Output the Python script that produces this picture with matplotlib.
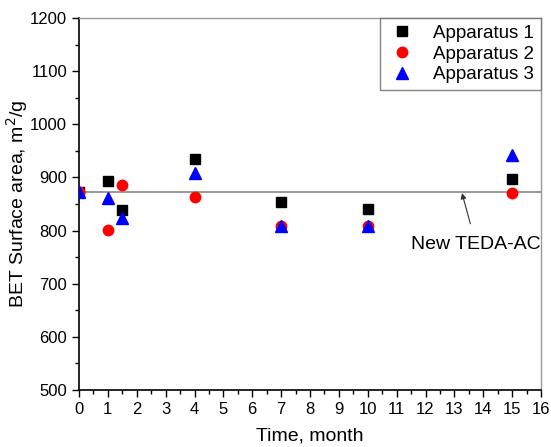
import matplotlib
matplotlib.use("Agg")
import matplotlib.pyplot as plt
from matplotlib.ticker import MultipleLocator

plt.rcParams['font.family'] = ['Liberation Sans', 'DejaVu Sans']

# data
months = [0, 1, 1.5, 4, 7, 10, 15]
app1 = [872, 893, 838, 935, 854, 841, 897]
app2 = [872, 802, 885, 863, 809, 808, 871]
app3 = [873, 861, 823, 909, 809, 808, 942]
new_teda = 873

fig = plt.figure(figsize=(5.51, 4.47), dpi=100)
ax = fig.add_axes([79 / 551, 1 - 390 / 447, 462 / 551, 372 / 447])

ax.axhline(new_teda, color='#888888', lw=1.2, zorder=1)
ax.plot(months, app1, 's', color='black', ms=6.5, ls='none', label='Apparatus 1', zorder=3)
ax.plot(months, app2, 'o', color='red', ms=7.5, ls='none', label='Apparatus 2', zorder=3)
ax.plot(months, app3, '^', color='blue', ms=8, ls='none', label='Apparatus 3', zorder=3)

ax.annotate('New TEDA-AC', xy=(13.25, new_teda), xytext=(13.75, 774),
            fontsize=14, ha='center', va='center',
            arrowprops=dict(arrowstyle='-|>', color='#333333', lw=0.8,
                            shrinkA=7, shrinkB=1, mutation_scale=8))

ax.set_xlim(0, 16)
ax.set_ylim(500, 1200)
ax.xaxis.set_major_locator(MultipleLocator(1))
ax.xaxis.set_minor_locator(MultipleLocator(0.5))
ax.yaxis.set_major_locator(MultipleLocator(100))
ax.yaxis.set_minor_locator(MultipleLocator(50))
ax.tick_params(which='major', direction='out', length=5, width=1, labelsize=12)
ax.tick_params(which='minor', direction='out', length=3, width=1)

for side in ['top', 'right']:
    ax.spines[side].set_color('#999999')
    ax.spines[side].set_linewidth(1)
for side in ['left', 'bottom']:
    ax.spines[side].set_linewidth(1.2)

ax.set_xlabel('Time, month', fontsize=14, labelpad=8)
ax.set_ylabel('BET Surface area, m$^2$/g', fontsize=14, labelpad=0)

leg = ax.legend(loc='upper right', fontsize=13.5, frameon=True, fancybox=False,
                borderaxespad=0, handletextpad=0.9, labelspacing=0.2,
                borderpad=0.35, handlelength=1.6)
leg.get_frame().set_edgecolor('#666666')
leg.get_frame().set_linewidth(1)

fig.savefig('out.png', dpi=100)
